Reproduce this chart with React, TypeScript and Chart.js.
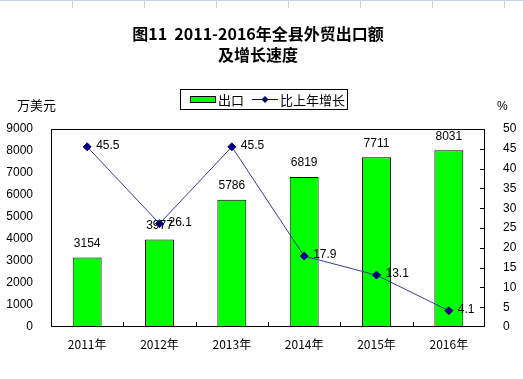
import React, { useEffect, useRef } from "react";
import { Chart, registerables } from "chart.js";

Chart.register(...registerables);

const categories = ["2011年", "2012年", "2013年", "2014年", "2015年", "2016年"];
const exportValues = [3154, 3977, 5786, 6819, 7711, 8031];
const growthValues = [45.5, 26.1, 45.5, 17.9, 13.1, 4.1];
const titleLines = ["图11  2011-2016年全县外贸出口额", "及增长速度"];
const leftUnit = "万美元";
const rightUnit = "%";
const barLabel = "出口";
const lineLabel = "比上年增长";

const FONT = "Arial, 'Liberation Sans', 'Noto Sans CJK SC', sans-serif";
const CJK = "'Noto Sans CJK SC', 'Liberation Sans', sans-serif";
const NAVY = "#000080";
const GREEN = "#00FF00";

const decorPlugin = {
  id: "decor",
  beforeDraw(chart: any) {
    const ctx = chart.ctx;
    ctx.save();
    ctx.strokeStyle = "#c6d3e6";
    ctx.lineWidth = 1;
    ctx.beginPath();
    ctx.moveTo(0, 0.5);
    ctx.lineTo(523, 0.5);
    for (let i = 1; i <= 7; i++) {
      const x = Math.round(i * 72) + 0.5;
      ctx.moveTo(x, 0);
      ctx.lineTo(x, 8);
    }
    ctx.stroke();
    ctx.restore();
  },
  afterDatasetsDraw(chart: any) {
    const ctx = chart.ctx;
    const { left, right, top, bottom } = chart.chartArea;
    ctx.save();
    ctx.strokeStyle = "#000";
    ctx.lineWidth = 1;
    ctx.strokeRect(Math.round(left) + 0.5, Math.round(top) + 0.5, Math.round(right - left) - 1, Math.round(bottom - top) - 1);
    const n = categories.length;
    const cw = (right - left) / n;
    ctx.beginPath();
    for (let k = 1; k < n; k++) {
      const x = Math.round(left + k * cw) + 0.5;
      ctx.moveTo(x, bottom - 1);
      ctx.lineTo(x, bottom - 5);
    }
    const y1 = chart.scales.y1;
    for (let v = 5; v < 50; v += 5) {
      const y = Math.round(y1.getPixelForValue(v)) + 0.5;
      ctx.moveTo(right - 1, y);
      ctx.lineTo(right - 5, y);
    }
    ctx.stroke();

    ctx.fillStyle = "#000";
    ctx.font = `12px ${FONT}`;
    ctx.textAlign = "center";
    ctx.textBaseline = "middle";
    const barMeta = chart.getDatasetMeta(0);
    barMeta.data.forEach((el: any, i: number) => {
      ctx.fillText(String(exportValues[i]), el.x, el.y - 14);
    });
    ctx.textAlign = "left";
    const lineMeta = chart.getDatasetMeta(1);
    lineMeta.data.forEach((el: any, i: number) => {
      ctx.fillText(String(growthValues[i]), el.x + 9, el.y - 1);
    });

    ctx.font = `bold 16px ${CJK}`;
    ctx.textAlign = "center";
    ctx.fillText(titleLines[0], 258, 34);
    ctx.fillText(titleLines[1], 258, 55);

    ctx.font = `13px ${CJK}`;
    ctx.textAlign = "left";
    ctx.fillText(leftUnit, 17, 105);
    ctx.font = `12px ${FONT}`;
    ctx.fillText(rightUnit, 497, 107);

    ctx.strokeStyle = "#000";
    ctx.strokeRect(180.5, 89.5, 167, 20);
    ctx.fillStyle = GREEN;
    ctx.fillRect(190, 97, 25, 5);
    ctx.strokeRect(190.5, 96.5, 25, 6);
    ctx.fillStyle = "#000";
    ctx.font = `13px ${CJK}`;
    ctx.fillText(barLabel, 218, 100);
    ctx.strokeStyle = NAVY;
    ctx.beginPath();
    ctx.moveTo(252, 99.5);
    ctx.lineTo(278, 99.5);
    ctx.stroke();
    ctx.fillStyle = NAVY;
    ctx.beginPath();
    ctx.moveTo(265, 96);
    ctx.lineTo(268.5, 99.5);
    ctx.lineTo(265, 103);
    ctx.lineTo(261.5, 99.5);
    ctx.closePath();
    ctx.fill();
    ctx.fillStyle = "#000";
    ctx.fillText(lineLabel, 280, 100);
    ctx.restore();
  },
};

export default function App() {
  const ref = useRef<HTMLCanvasElement>(null);
  useEffect(() => {
    if (!ref.current) return;
    const chart = new Chart(ref.current, {
      type: "bar",
      data: {
        labels: categories,
        datasets: [
          {
            type: "bar",
            label: barLabel,
            data: exportValues,
            backgroundColor: GREEN,
            borderColor: "#000",
            borderWidth: 1,
            categoryPercentage: 1,
            barPercentage: 0.4,
            yAxisID: "y",
            order: 2,
          },
          {
            type: "line",
            label: lineLabel,
            data: growthValues,
            borderColor: "#3a3a9a",
            borderWidth: 1,
            pointStyle: "rectRot",
            pointRadius: 4,
            pointBackgroundColor: NAVY,
            pointBorderColor: NAVY,
            pointBorderWidth: 1,
            yAxisID: "y1",
            order: 1,
          } as any,
        ],
      },
      options: {
        animation: false,
        responsive: false,
        maintainAspectRatio: false,
        layout: { padding: { left: 0, right: 0, top: 129, bottom: 0 } },
        plugins: { legend: { display: false }, title: { display: false }, tooltip: { enabled: false } },
        scales: {
          x: {
            grid: { display: false },
            border: { display: false },
            ticks: { color: "#000", font: { size: 12, family: CJK }, padding: 2 },
            afterFit: (s: any) => { s.height = 52; },
          },
          y: {
            position: "left",
            min: 0,
            max: 9000,
            grid: { display: false },
            border: { display: false },
            ticks: { stepSize: 1000, color: "#000", font: { size: 12, family: FONT }, padding: 10, callback: (v: any) => String(v) },
            afterFit: (s: any) => { s.width = 51; },
          },
          y1: {
            position: "right",
            min: 0,
            max: 50,
            grid: { display: false },
            border: { display: false },
            ticks: { stepSize: 5, color: "#000", font: { size: 12, family: FONT }, padding: 10, callback: (v: any) => String(v) },
            afterFit: (s: any) => { s.width = 38; },
          },
        },
      },
      plugins: [decorPlugin],
    });
    return () => chart.destroy();
  }, []);
  return (
    <div style={{ position: "fixed", left: 0, top: 0, width: 523, height: 379, background: "#fff" }}>
      <canvas ref={ref} width={523} height={379} style={{ width: 523, height: 379 }} />
    </div>
  );
}
